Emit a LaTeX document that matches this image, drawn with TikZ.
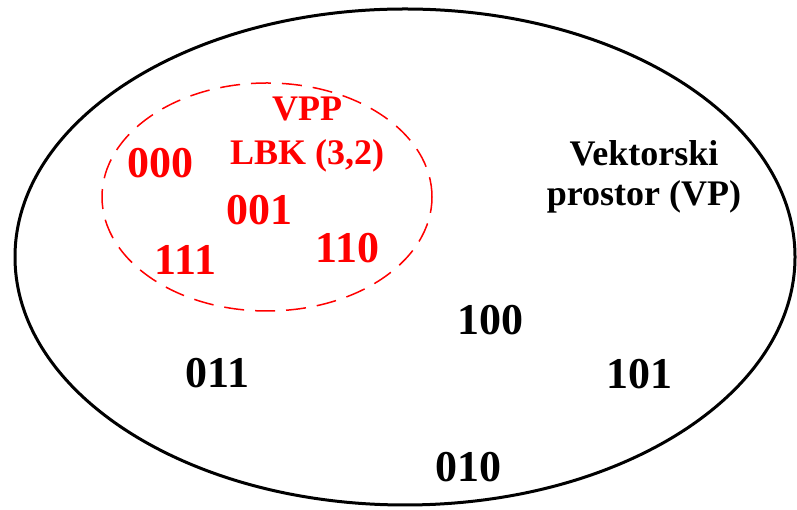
\documentclass[tikz,border=0pt]{standalone}
\usepackage{fontspec}
\setmainfont{Liberation Serif}
\begin{document}
\begin{tikzpicture}[x=1pt,y=1pt,
  num/.style={font=\bfseries\fontsize{44}{48}\selectfont, inner sep=0pt, anchor=base},
  lbl/.style={font=\bfseries\fontsize{36}{42}\selectfont, inner sep=0pt, align=center},
  rednum/.style={num, text=red},
  redlbl/.style={lbl, text=red}]
\useasboundingbox (0,0) rectangle (797,510);
% outer vector space
\draw[line width=3pt] (405,253) ellipse [x radius=390, y radius=248];
% subspace (code)
\draw[red, line width=1.5pt, dash pattern=on 20pt off 11pt] (267,313) ellipse [x radius=165, y radius=114];
% red code words
\node[redlbl, font=\bfseries\fontsize{36}{44}\selectfont] (vpp) at (307,375) {VPP\\LBK (3,2)};
\node[rednum] (c000) at (160.5,332) {000};
\node[rednum] (c001) at (259,285) {001};
\node[rednum] (c111) at (185.5,235) {111};
\node[rednum] (c110) at (347.5,247) {110};
% black words
\node[lbl, font=\bfseries\fontsize{36}{40}\selectfont] (vp) at (644,333.5) {Vektorski\\prostor (VP)};
\node[num] (v100) at (490.5,175) {100};
\node[num] (v011) at (217.5,122) {011};
\node[num] (v101) at (639.5,121) {101};
\node[num] (v010) at (468,28) {010};
\end{tikzpicture}
\end{document}
